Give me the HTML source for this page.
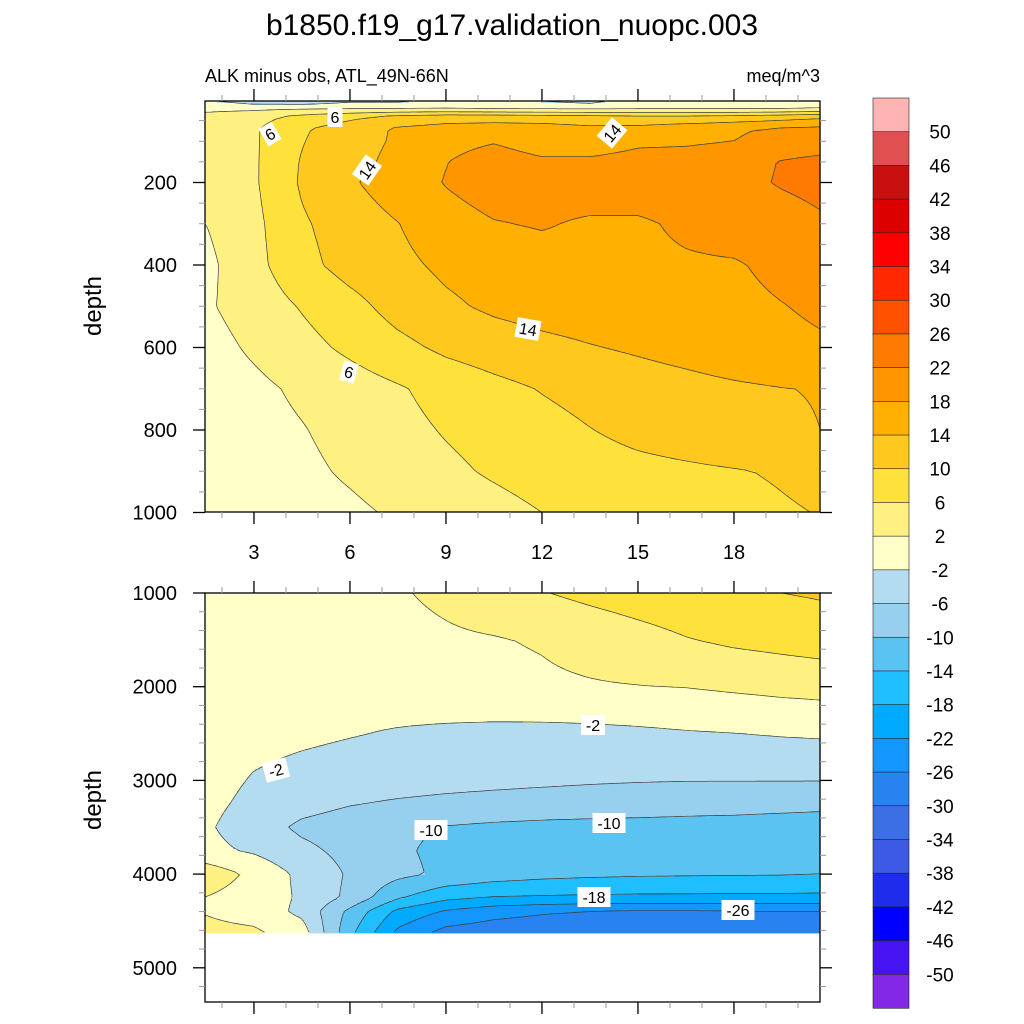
<!DOCTYPE html>
<html><head><meta charset="utf-8"><style>
body{margin:0;background:#fff}
svg{display:block;font-family:"Liberation Sans",sans-serif}
</style></head><body>
<svg id="s" width="1024" height="1024" viewBox="0 0 1024 1024">
<text x="512" y="35" text-anchor="middle" font-size="30">b1850.f19_g17.validation_nuopc.003</text>
<text x="205" y="82" font-size="18">ALK minus obs, ATL_49N-66N</text>
<text x="820" y="82" font-size="18" text-anchor="end">meq/m^3</text>
<text transform="translate(101,306) rotate(-90)" text-anchor="middle" font-size="24">depth</text>
<text transform="translate(101,800) rotate(-90)" text-anchor="middle" font-size="24">depth</text>
<g id="topFill"></g>
<g id="botFill"></g>
<g id="lines"></g>
<g id="axes"></g>
<g id="labels"></g>
<g id="cbar"></g>
</svg>
<script>
// ---- data ----
const xCols = [1.5,3,4.5,6,7.5,9,10.5,12,13.5,15,16.5,18,19.5,20.7];
const topDepths = [5,20,40,70,100,150,200,300,400,500,600,700,800,900,1000];
const topGrid = [
[-1.5,-3.5,-4,-2.5,-2.5,-0.5,-1.5,-2,-3,0,0.5,0,0,1],
[1,1,1.5,1.5,1.5,1.5,1,1,1,1,1,1,1,1.5],
[3,4.5,7,9,11,12,12,11.5,11,10.5,10.5,11,12,13],
[3,5.5,9.5,12,14.5,15.5,16,16,15,15.3,16.5,17.5,18.5,19],
[3.5,5.5,9.8,12.5,14.5,17,17.8,16.5,16.5,17.5,17.5,18,19.5,20],
[3.5,5.5,10.3,12.8,15,17.9,19.5,18.5,18.5,19,19.5,20.5,22.2,23],
[3.5,5.5,10.5,13.5,16,18.2,19.8,19.5,20,20,20.3,21,22.3,23],
[2,5,9.5,12,13.9,16.5,17.8,18.3,17.5,17.5,18.6,19.5,20.5,21.5],
[1,4.8,8.8,11.5,13,14.8,15.8,16.5,17,17.3,17.6,17.7,18.8,19.5],
[1.5,3.8,6.3,8.7,11.5,13.3,14.7,15.5,16,16.5,16.8,17.2,17.9,18.5],
[0.5,2.6,4.7,6.8,8.9,10.8,12,13,13.8,14.5,15.3,16.3,17.2,17.6],
[0,1.1,2.7,4.1,5.6,7.4,8.9,10.2,11.3,12.2,12.8,13.4,13.9,14.2],
[-0.5,0.6,1.8,3.3,4.8,6.3,7.5,8.7,9.9,11,11.8,12.6,13.3,14],
[-0.5,0.3,1.2,2.5,3.8,5.2,6.5,7.6,8.4,9,9.4,9.8,10.3,10.8],
[-0.5,0,0.5,1.3,2.5,3.7,4.7,6,7,7.8,8.5,9.1,9.7,10.1]
];
const botDepths = [1000,1500,2000,2500,3000,3250,3500,3750,4000,4250,4400,4630];
const botGrid = [
[0,0.3,0.7,1.2,1.7,2.7,4,5.8,7,8,8.8,9.3,10,10.4],
[-0.5,-0.3,0,0.5,1,1.5,1.8,2.3,3.3,4.5,5.8,6.7,7.3,7.8],
[-1,-1,-0.8,-0.5,0,0.5,1,1.4,1.7,1.9,2.1,2.6,3.1,3.4],
[-0.5,-0.8,-1.3,-1.8,-2.3,-2.7,-3,-3.1,-3,-2.7,-2.3,-2.05,-1.7,-1.5],
[-0.5,-2.3,-3.2,-3.8,-4.3,-4.7,-5,-5.3,-5.6,-5.8,-5.9,-5.9,-5.9,-5.9],
[-1,-3,-4.6,-5.8,-6.5,-7,-7.4,-7.7,-7.9,-8.1,-8.3,-8.5,-8.8,-9],
[-1.5,-4,-6.8,-8,-9.3,-10.2,-10.7,-11,-11.2,-11.3,-11.5,-11.6,-11.8,-12],
[-1,-2.5,-5,-7.2,-9.5,-10.8,-11.5,-12,-12.2,-12.4,-12.6,-12.8,-13.3,-13.5],
[4.5,1,-3,-6.5,-9,-10.8,-12,-12.8,-13.2,-13.5,-13.6,-13.7,-13.8,-13.9],
[1.9,0,-2.5,-7,-13.5,-17,-18.2,-18.5,-18.7,-18.8,-18.8,-18.9,-18.9,-19],
[1.8,0.5,-3,-11,-19,-22.5,-24.5,-25.5,-26.2,-26.5,-26.5,-26.3,-26.2,-26.2],
[3,2.7,0,-13,-23,-27.5,-28.5,-29,-29,-29,-29,-29,-29,-29]
];
const levels = [-50,-46,-42,-38,-34,-30,-26,-22,-18,-14,-10,-6,-2,2,6,10,14,18,22,26,30,34,38,42,46,50];
const colors = ['#8228e6','#4614f0','#0000ff','#1e2deb','#3c5ae6','#3c6ee6','#2882f0','#1496ff','#00aaff','#1ebeff','#5ac3f2','#96d0ee','#b4dcf0','#ffffc8','#fff082','#ffe13c','#ffc81e','#ffb000','#ff9600','#ff7a00','#ff5000','#ff2800','#ff0000','#dc0000','#c81010','#e05050','#ffb4b4'];
const topYTicks = [200,400,600,800,1000];
const botYTicks = [1000,2000,3000,4000,5000];
const xTicks = [3,6,9,12,15,18];

// ---- scales ----
const NS='http://www.w3.org/2000/svg';
const PX0=205, PX1=820;
const xScale = x => 205 + (x-1.47)*32;
const xInv = px => 1.47 + (px-205)/32;
const topY = d => 100 + d*0.4125;
const topInv = y => (y-100)/0.4125;
const botY = d => 593 + (d-1000)*0.0937;
const botInv = y => 1000 + (y-593)/0.0937;
function el(tag, attrs, parent){const e=document.createElementNS(NS,tag);for(const k in attrs)e.setAttribute(k,attrs[k]);parent.appendChild(e);return e;}
function colorOf(v){let i=0;while(i<levels.length && v>=levels[i])i++;return colors[i];}
function interp(arr,v){
  if(v<=arr[0])return [0,0];
  if(v>=arr[arr.length-1])return [arr.length-2,1];
  let i=0;while(arr[i+1]<v)i++;
  return [i,(v-arr[i])/(arr[i+1]-arr[i])];
}
function value(grid,depths,x,d){
  const [i,fy]=interp(depths,d);const [j,fx]=interp(xCols,x);
  const a=grid[i][j],b=grid[i][j+1],c=grid[i+1][j],e=grid[i+1][j+1];
  return (a*(1-fx)+b*fx)*(1-fy)+(c*(1-fx)+e*fx)*fy;
}
function renderPanel(g,grid,depths,y0,y1,inv,dmax){
  const step=2;
  for(let y=y0;y<y1;y+=step){
    const d=inv(y+step/2);
    if(d>dmax)continue;
    const h=Math.min(step,y1-y);
    const cols=[];
    for(let x=PX0;x<PX1;x+=step){
      cols.push([x,colorOf(value(grid,depths,xInv(Math.min(x+step/2,PX1)),d))]);
    }
    cols.push([PX1,null]);
    let runStart=PX0,runCol=cols[0][1];
    for(let k=1;k<cols.length;k++){
      const [x,c]=cols[k];
      if(c!==runCol){
        const r=el('rect',{x:runStart,y:y,width:x-runStart+0.6,height:h+0.4,fill:runCol},g);
        
        
        runStart=x;runCol=c;
      }
    }
  }
}
function contourPanel(g,grid,depths,y0,y1,inv,dmax,name){
  const s=3, nx=Math.ceil((PX1-PX0)/s), V=[], Y=[];
  for(let y=y0;;y+=s){
    const yy=Math.min(y,y1);
    if(inv(yy)>dmax+1)break;
    Y.push(yy);
    const row=[];
    for(let i=0;i<=nx;i++){const xx=Math.min(PX0+i*s,PX1);row.push(value(grid,depths,xInv(xx),inv(yy)));}
    V.push(row);
    if(yy>=y1)break;
  }
  let dstr='';
  const X=i=>Math.min(PX0+i*s,PX1);
  for(let j=0;j<V.length-1;j++)for(let i=0;i<nx;i++){
    const a=V[j][i],b=V[j][i+1],c=V[j+1][i+1],e=V[j+1][i];
    const xa=X(i),xb=X(i+1),ya=Y[j],yb=Y[j+1];
    for(const L of levels){
      const p=[];
      if((a-L)*(b-L)<0)p.push([xa+(L-a)/(b-a)*(xb-xa),ya]);
      if((b-L)*(c-L)<0)p.push([xb,ya+(L-b)/(c-b)*(yb-ya)]);
      if((c-L)*(e-L)<0)p.push([xb-(L-c)/(e-c)*(xb-xa),yb]);
      if((e-L)*(a-L)<0)p.push([xa,yb-(L-e)/(a-e)*(yb-ya)]);
      for(let k=0;k+1<p.length;k+=2)dstr+=`M${p[k][0].toFixed(1)} ${p[k][1].toFixed(1)}L${p[k+1][0].toFixed(1)} ${p[k+1][1].toFixed(1)}`;
    }
  }
  const path=el('path',{d:dstr,fill:'none',stroke:'#3a3a3a','stroke-width':0.7,'stroke-linecap':'round'},g);
  
  
}
renderPanel(document.getElementById('topFill'),topGrid,topDepths,101,512,topInv,1e9);
renderPanel(document.getElementById('botFill'),botGrid,botDepths,593,1002,botInv,botDepths[botDepths.length-1]);
const linesG=document.getElementById('lines');
contourPanel(linesG,topGrid,topDepths,101,512,topInv,1e9,'top-contour-lines');
contourPanel(linesG,botGrid,botDepths,593,934,botInv,botDepths[botDepths.length-1],'bottom-contour-lines');

// ---- axes ----
const ax=document.getElementById('axes');
function frame(y0,y1,name){
  const r=el('rect',{x:PX0,y:y0,width:PX1-PX0,height:y1-y0,fill:'none',stroke:'#000','stroke-width':1.3},ax);
  
  
}
function tick(x1,y1,x2,y2,major){el('line',{x1,y1,x2,y2,stroke:major?'#000':'#999','stroke-width':major?1.3:1},ax);}
function xAxisTicks(yTop,yBot){
  for(let v=2;v<=20;v++){
    const x=xScale(v), major=v%3===0, L=major?12:6;
    tick(x,yBot,x,yBot+L,major);tick(x,yTop,x,yTop-L,major);
  }
}
frame(101,512,'top-plot-frame');
xAxisTicks(101,512);
for(let d=50;d<=1000;d+=50){
  const y=topY(d), major=d%200===0, L=major?12:6;
  if(y<101)continue;
  tick(PX0,y,PX0-L,y,major);tick(PX1,y,PX1+L,y,major);
}
topYTicks.forEach(d=>{
  const t=el('text',{x:177,y:topY(d)+7,'text-anchor':'end','font-size':20},ax);t.textContent=d;
  
  
});
xTicks.forEach(v=>{
  const t=el('text',{x:xScale(v),y:559,'text-anchor':'middle','font-size':20},ax);t.textContent=v;
  
  
});
frame(593,1002,'bottom-plot-frame');
xAxisTicks(593,1002);
for(let d=1000;d<=5300;d+=200){
  const y=botY(d), major=d%1000===0, L=major?12:6;
  tick(PX0,y,PX0-L,y,major);tick(PX1,y,PX1+L,y,major);
}
botYTicks.forEach(d=>{
  const t=el('text',{x:177,y:botY(d)+7,'text-anchor':'end','font-size':20},ax);t.textContent=d;
  
  
});

// ---- contour labels ----
const labelText=['6','6','14','14','14','6','-2','-2','-10','-10','-18','-26'];
const labelPos=[[335,117,0],[270,134,-30],[367,170,-55],[612,133,-50],[528,329,10],[349,372,15],[276,770,-15],[593,725,0],[431,830,0],[609,823,0],[594,897,0],[738,910,0]];
const lg=document.getElementById('labels');
labelText.forEach((s,i)=>{
  const [x,y,r]=labelPos[i];
  const g=el('g',{transform:`translate(${x},${y}) rotate(${r})`},lg);
  
  
  const w=s.length*9+6;
  el('rect',{x:-w/2,y:-10,width:w,height:20,fill:'#fff'},g);
  const t=el('text',{x:0,y:6,'text-anchor':'middle','font-size':16},g);t.textContent=s;
});

// ---- colorbar ----
const cb=document.getElementById('cbar');
const CB_TOP=98, CB_H=910/27;
for(let k=0;k<27;k++){
  const r=el('rect',{x:873,y:CB_TOP+k*CB_H,width:36,height:CB_H+0.3,fill:colors[26-k],stroke:'#222','stroke-width':0.6},cb);
  
  
}
levels.slice().reverse().forEach((v,k)=>{
  const t=el('text',{x:940,y:CB_TOP+(k+1)*CB_H+7,'text-anchor':'middle','font-size':19},cb);t.textContent=v;
  
  
});
</script>
</body></html>
